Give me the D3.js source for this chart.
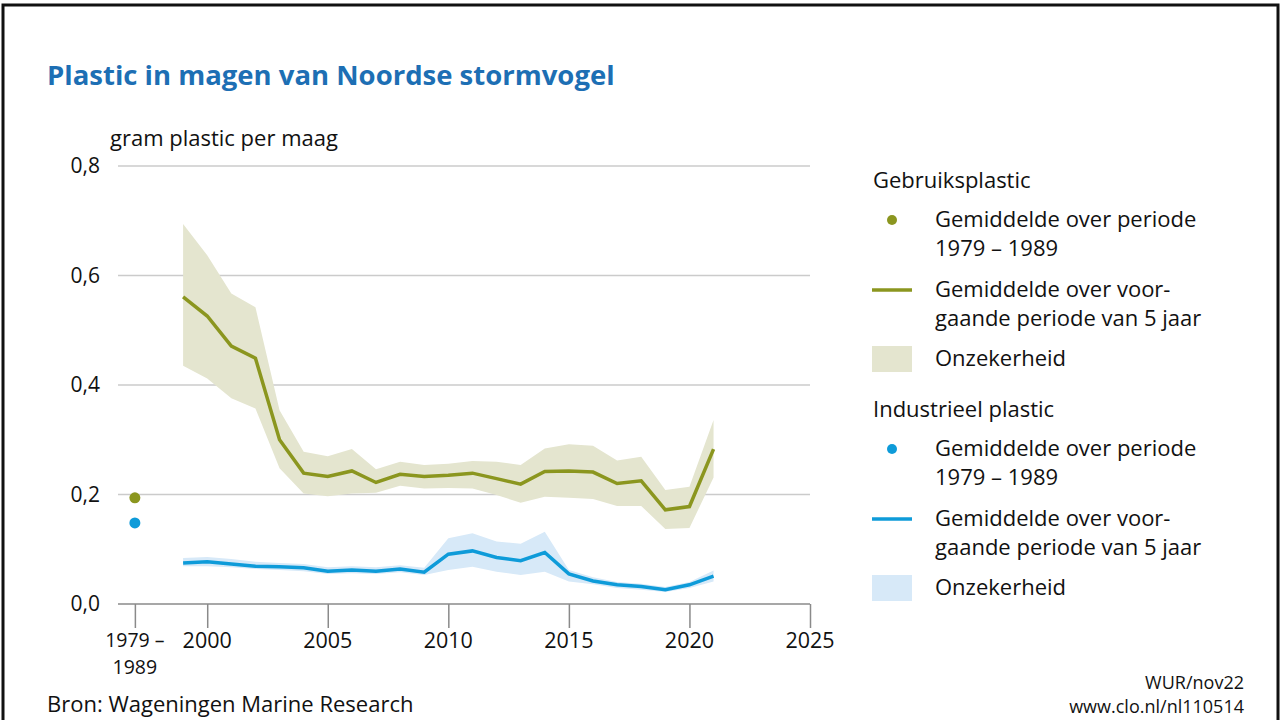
<!DOCTYPE html>
<html>
<head>
<meta charset="utf-8">
<script src="https://cdn.jsdelivr.net/npm/d3@7"></script>
<style>
  body { margin: 0; background: #fff; }
  svg { display: block; font-family: "Open Sans", "Noto Sans", sans-serif; }
</style>
</head>
<body>
<div id="chart"></div>
<script>
// data
var years = [1999, 2000, 2001, 2002, 2003, 2004, 2005, 2006, 2007, 2008, 2009, 2010,
             2011, 2012, 2013, 2014, 2015, 2016, 2017, 2018, 2019, 2020, 2021];

var userMean  = [0.561, 0.526, 0.471, 0.449, 0.300, 0.239, 0.233, 0.243, 0.222, 0.237, 0.233, 0.235,
                 0.239, 0.229, 0.219, 0.242, 0.243, 0.241, 0.220, 0.225, 0.172, 0.178, 0.283];
var userLow   = [0.435, 0.412, 0.376, 0.357, 0.248, 0.202, 0.197, 0.202, 0.203, 0.216, 0.211, 0.212,
                 0.211, 0.199, 0.185, 0.196, 0.194, 0.192, 0.179, 0.179, 0.137, 0.139, 0.231];
var userHigh  = [0.694, 0.637, 0.567, 0.542, 0.354, 0.278, 0.270, 0.283, 0.246, 0.260, 0.254, 0.256,
                 0.261, 0.260, 0.254, 0.284, 0.292, 0.289, 0.262, 0.269, 0.208, 0.214, 0.336];

var indMean   = [0.075, 0.077, 0.073, 0.069, 0.068, 0.066, 0.060, 0.062, 0.060, 0.064, 0.058, 0.091,
                 0.097, 0.085, 0.079, 0.094, 0.055, 0.042, 0.035, 0.032, 0.026, 0.035, 0.051];
var indLow    = [0.069, 0.069, 0.067, 0.064, 0.062, 0.060, 0.055, 0.056, 0.055, 0.058, 0.053, 0.062,
                 0.068, 0.059, 0.053, 0.059, 0.041, 0.036, 0.029, 0.026, 0.022, 0.029, 0.041];
var indHigh   = [0.084, 0.086, 0.082, 0.077, 0.075, 0.073, 0.067, 0.069, 0.067, 0.071, 0.066, 0.120,
                 0.129, 0.114, 0.110, 0.132, 0.062, 0.049, 0.040, 0.037, 0.031, 0.040, 0.061];

// 1979-1989 averages
var earlyUser = 0.194;
var earlyInd = 0.148;

var yTicks = [0, 0.2, 0.4, 0.6, 0.8];
var xTicks = [2000, 2005, 2010, 2015, 2020, 2025];
var earlyLabel = ["1979 –", "1989"];

var W = 1284, H = 720;
var green = "#8b961f", greenBand = "#e4e5cf";
var blue = "#0e9bd9", blueBand = "#d7e9f8";
var earlyPos = 1997;

var svg = d3.select("#chart").append("svg")
    .attr("width", W)
    .attr("height", H);

// frame
svg.append("rect")
    .attr("x", 3).attr("y", 5)
    .attr("width", 1275).attr("height", 740)
    .attr("fill", "none")
    .attr("stroke", "#111")
    .attr("stroke-width", 3);

var x = d3.scaleLinear().domain([1996.3, 2025]).range([118, 810]);
var y = d3.scaleLinear().domain([0, 0.8]).range([604, 166]);

// title
svg.append("text")
    .attr("x", 47).attr("y", 85)
    .attr("fill", "#1d6fb4")
    .attr("font-size", 27.5)
    .attr("font-weight", "bold")
    .text("Plastic in magen van Noordse stormvogel");

svg.append("text")
    .attr("x", 110).attr("y", 146)
    .attr("font-size", 22)
    .attr("fill", "#111")
    .text("gram plastic per maag");

// gridlines + y labels
svg.append("g").selectAll("line")
    .data(yTicks.filter(d => d > 0))
    .join("line")
    .attr("x1", x.range()[0]).attr("x2", x.range()[1])
    .attr("y1", d => y(d)).attr("y2", d => y(d))
    .attr("stroke", "#cbcbcb")
    .attr("stroke-width", 1.5);

svg.append("g").selectAll("text")
    .data(yTicks)
    .join("text")
    .attr("x", 100)
    .attr("y", d => y(d) + 7)
    .attr("text-anchor", "end")
    .attr("font-size", 21)
    .attr("fill", "#111")
    .text(d => d3.format(".1f")(d).replace(".", ","));

// x axis
var xAxis = d3.axisBottom(x)
    .tickValues([earlyPos].concat(xTicks))
    .tickSize(24)
    .tickFormat("");
var gx = svg.append("g")
    .attr("transform", "translate(0," + y(0) + ")")
    .call(xAxis);
gx.select(".domain").attr("stroke", "#8a8a8a").attr("stroke-width", 1.5)
    .attr("d", "M" + x.range()[0] + ",0H" + x.range()[1]);
gx.selectAll(".tick line").attr("stroke", "#8a8a8a").attr("stroke-width", 1.5);

svg.append("g").selectAll("text")
    .data(xTicks)
    .join("text")
    .attr("x", d => x(d))
    .attr("y", 648)
    .attr("text-anchor", "middle")
    .attr("font-size", 21.5)
    .attr("fill", "#111")
    .text(d => d);

svg.append("g").selectAll("text")
    .data(earlyLabel)
    .join("text")
    .attr("x", x(earlyPos))
    .attr("y", (d, i) => 647 + i * 27)
    .attr("text-anchor", "middle")
    .attr("font-size", 19.5)
    .attr("fill", "#111")
    .text(d => d);

// bands
var rows = years.map((yr, i) => ({
    yr: yr,
    uMean: userMean[i], uLow: userLow[i], uHigh: userHigh[i],
    iMean: indMean[i], iLow: indLow[i], iHigh: indHigh[i]
}));

svg.append("path")
    .datum(rows)
    .attr("fill", greenBand)
    .attr("d", d3.area().x(d => x(d.yr)).y0(d => y(d.uLow)).y1(d => y(d.uHigh)));

svg.append("path")
    .datum(rows)
    .attr("fill", blueBand)
    .attr("d", d3.area().x(d => x(d.yr)).y0(d => y(d.iLow)).y1(d => y(d.iHigh)));

svg.append("path")
    .datum(rows)
    .attr("fill", "none")
    .attr("stroke", green)
    .attr("stroke-width", 3.5)
    .attr("d", d3.line().x(d => x(d.yr)).y(d => y(d.uMean)));

svg.append("path")
    .datum(rows)
    .attr("fill", "none")
    .attr("stroke", blue)
    .attr("stroke-width", 3.5)
    .attr("d", d3.line().x(d => x(d.yr)).y(d => y(d.iMean)));

svg.append("circle")
    .attr("cx", x(earlyPos)).attr("cy", y(earlyUser))
    .attr("r", 5.5).attr("fill", green);
svg.append("circle")
    .attr("cx", x(earlyPos)).attr("cy", y(earlyInd))
    .attr("r", 5.5).attr("fill", blue);

// legend
var legend = svg.append("g").attr("font-size", 22).attr("fill", "#111");
function legendGroup(top, heading, col, band) {
    legend.append("text").attr("x", 873).attr("y", top).text(heading);
    legend.append("circle").attr("cx", 892).attr("cy", top + 39 - 7).attr("r", 5).attr("fill", col);
    legend.append("text").attr("x", 935).attr("y", top + 39).text("Gemiddelde over periode");
    legend.append("text").attr("x", 935).attr("y", top + 68).text("1979 – 1989");
    legend.append("line").attr("x1", 872).attr("x2", 912)
        .attr("y1", top + 109 - 7).attr("y2", top + 109 - 7)
        .attr("stroke", col).attr("stroke-width", 3.5);
    legend.append("text").attr("x", 935).attr("y", top + 109).text("Gemiddelde over voor-");
    legend.append("text").attr("x", 935).attr("y", top + 138).text("gaande periode van 5 jaar");
    legend.append("rect").attr("x", 872).attr("y", top + 158).attr("width", 40).attr("height", 26)
        .attr("fill", band);
    legend.append("text").attr("x", 935).attr("y", top + 178).text("Onzekerheid");
}
legendGroup(188, "Gebruiksplastic", green, greenBand);
legendGroup(417, "Industrieel plastic", blue, blueBand);

// footer
svg.append("text")
    .attr("x", 47).attr("y", 712)
    .attr("font-size", 22)
    .attr("fill", "#111")
    .text("Bron: Wageningen Marine Research");

svg.append("text")
    .attr("x", 1244).attr("y", 689)
    .attr("text-anchor", "end")
    .attr("font-size", 18)
    .attr("fill", "#111")
    .text("WUR/nov22");
svg.append("text")
    .attr("x", 1244).attr("y", 713)
    .attr("text-anchor", "end")
    .attr("font-size", 18)
    .attr("fill", "#111")
    .text("www.clo.nl/nl110514");
</script>
</body>
</html>
